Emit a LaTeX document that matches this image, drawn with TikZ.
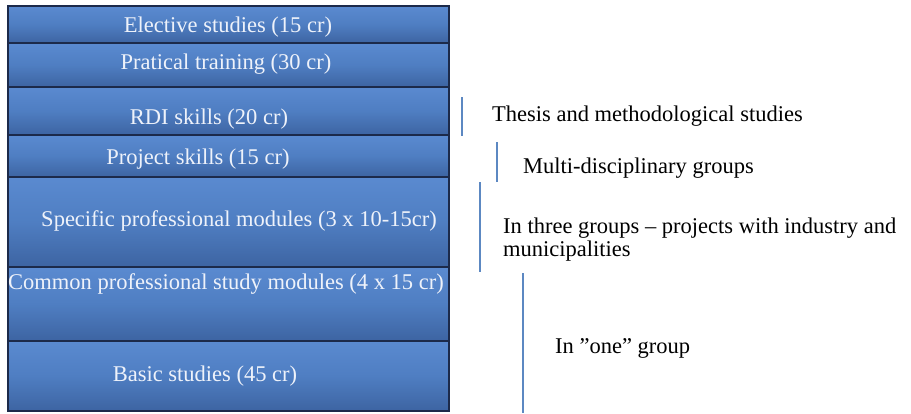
\documentclass[tikz,border=0pt]{standalone}
\usepackage{fontspec}
\setmainfont{Liberation Serif}
\definecolor{boxtop}{HTML}{5A8AD0}
\definecolor{boxmid}{HTML}{4F7EC2}
\definecolor{boxbot}{HTML}{3D64A2}
\definecolor{boxedge}{HTML}{1C2A4A}
\definecolor{boxtext}{HTML}{EEF2FA}
\definecolor{barblue}{HTML}{5C88C2}
\begin{document}
\begin{tikzpicture}[x=1pt,y=-1pt,
  layer/.style={draw=boxedge, line width=1.8pt, top color=boxtop, bottom color=boxbot, middle color=boxmid, minimum width=441pt, inner sep=0pt, anchor=north west},
  layertext/.style={text=boxtext, font=\fontsize{22.5}{24}\selectfont, inner sep=0pt},
  note/.style={text=black, font=\fontsize{22.5}{23}\selectfont, inner sep=0pt, anchor=west, align=left},
  bar/.style={draw=barblue, line width=2.8pt}]
\useasboundingbox (0,0) rectangle (911,413);
\node[layer, minimum height=70pt] (bas) at (7,340) {};
\node[layer, minimum height=74pt] (com) at (7,266) {};
\node[layer, minimum height=90pt] (spe) at (7,176) {};
\node[layer, minimum height=42pt] (pro) at (7,134) {};
\node[layer, minimum height=48pt] (rdi) at (7,86) {};
\node[layer, minimum height=44pt] (pra) at (7,42) {};
\node[layer, minimum height=37pt] (ele) at (7,5) {};
\node[layertext] (tele) at (228,27) {Elective studies (15 cr)};
\node[layertext] (tpra) at (226,64) {Pratical training (30 cr)};
\node[layertext] (trdi) at (209,119) {RDI skills (20 cr)};
\node[layertext] (tpro) at (198,159) {Project skills (15 cr)};
\node[layertext] (tspe) at (239,221) {Specific professional modules (3 x 10-15cr)};
\node[layertext] (tcom) at (226,284) {Common professional study modules (4 x 15 cr)};
\node[layertext] (tbas) at (205,376) {Basic studies (45 cr)};
\coordinate (b1a) at (462,97); \coordinate (b1b) at (462,136);
\coordinate (b2a) at (497,142); \coordinate (b2b) at (497,182);
\coordinate (b3a) at (480,182); \coordinate (b3b) at (480,272);
\coordinate (b4a) at (523,273); \coordinate (b4b) at (523,413);
\draw[bar] (b1a) -- (b1b);
\draw[bar] (b2a) -- (b2b);
\draw[bar] (b3a) -- (b3b);
\draw[bar] (b4a) -- (b4b);
\node[note] (n1) at (492,116) {Thesis and methodological studies};
\node[note] (n2) at (523,168) {Multi-disciplinary groups};
\node[note] (n3) at (503,240) {In three groups – projects with industry and\\municipalities};
\node[note] (n4) at (555,348) {In ”one” group};
\end{tikzpicture}
\end{document}
